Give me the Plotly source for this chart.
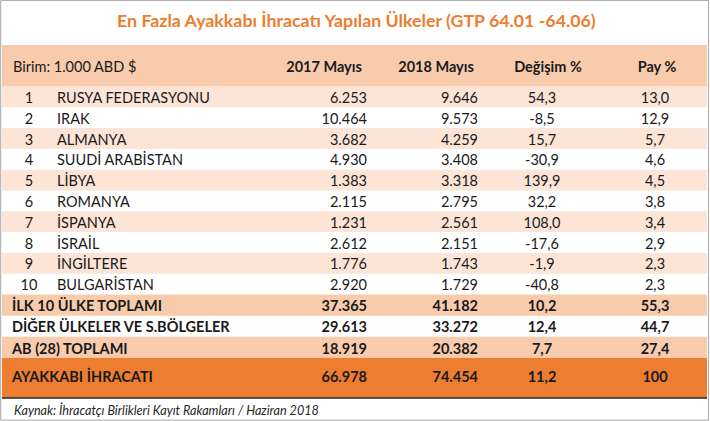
import plotly.graph_objects as go

# ---------------- data ----------------
title = "En Fazla Ayakkabı İhracatı Yapılan Ülkeler (GTP 64.01 -64.06)"
unit_label = "Birim: 1.000 ABD $"
col_headers = ["2017 Mayıs", "2018 Mayıs", "Değişim %", "Pay %"]

ranks = [1, 2, 3, 4, 5, 6, 7, 8, 9, 10]
countries = ["RUSYA FEDERASYONU", "IRAK", "ALMANYA", "SUUDİ ARABİSTAN", "LİBYA",
             "ROMANYA", "İSPANYA", "İSRAİL", "İNGİLTERE", "BULGARİSTAN"]
may2017 = [6253, 10464, 3682, 4930, 1383, 2115, 1231, 2612, 1776, 2920]
may2018 = [9646, 9573, 4259, 3408, 3318, 2795, 2561, 2151, 1743, 1729]
change_pct = [54.3, -8.5, 15.7, -30.9, 139.9, 32.2, 108.0, -17.6, -1.9, -40.8]
share_pct = [13.0, 12.9, 5.7, 4.6, 4.5, 3.8, 3.4, 2.9, 2.3, 2.3]

total_labels = ["İLK 10 ÜLKE TOPLAMI", "DİĞER ÜLKELER VE S.BÖLGELER", "AB (28) TOPLAMI", "AYAKKABI İHRACATI"]
total_2017 = [37365, 29613, 18919, 66978]
total_2018 = [41182, 33272, 20382, 74454]
total_change = [10.2, 12.4, 7.7, 11.2]
total_share = [55.3, 44.7, 27.4, 100]

source = "Kaynak: İhracatçı Birlikleri Kayıt Rakamları / Haziran 2018"

# ---------------- formatting helpers ----------------
def fmt_int(v):
    return f"{v:,}".replace(",", ".")

def fmt_dec(v):
    if isinstance(v, int):
        return str(v)
    return f"{v:.1f}".replace(".", ",")

# ---------------- layout geometry ----------------
W, H = 710, 421
FONT = "Lato"
ORANGE = "#ED7D31"
PEACH = "#F8CBAD"
LIGHT = "#FCE4D6"

header_top, header_bot = 45, 86.5
row_h = 20.8
final_top, final_bot = 358, 398
x_left, x_right = 2, 707
dy = 2.5  # text baseline adjustment

x_rank = 29
x_name = 57
x_2017 = 367
x_2018 = 478
x_chg = 542
x_pay = 655

row_tops = [header_bot + i * row_h for i in range(len(countries))]
row_centers = [t + row_h / 2 + dy for t in row_tops]
tot_start = row_tops[-1] + row_h
tot_h = (final_top - tot_start) / 3
tot_tops = [tot_start + i * tot_h for i in range(3)] + [final_top]
tot_heights = [tot_h, tot_h, tot_h, final_bot - final_top]
tot_centers = [t + h / 2 + (dy if i < 3 else 0.5) for i, (t, h) in enumerate(zip(tot_tops, tot_heights))]

shapes = []
def band(y0, y1, color):
    shapes.append(dict(type="rect", xref="x", yref="y", x0=x_left, x1=x_right, y0=y0, y1=y1,
                       fillcolor=color, line=dict(width=0), layer="below"))

band(header_top, header_bot, PEACH)
for i, t in enumerate(row_tops):
    if i % 2 == 0:
        band(t, t + row_h, LIGHT)
for i, (t, h) in enumerate(zip(tot_tops, tot_heights)):
    if i == 3:
        band(t, t + h, ORANGE)
    elif i % 2 == 0:
        band(t, t + h, PEACH)

# bottom dark line of the table and outer frame
shapes.append(dict(type="line", xref="x", yref="y", x0=x_left, x1=x_right, y0=final_bot, y1=final_bot,
                   line=dict(color="#262626", width=1.5)))
shapes.append(dict(type="rect", xref="paper", yref="paper", x0=0.001, x1=0.998, y0=0.002, y1=0.999,
                   line=dict(color="#A6A6A6", width=1), fillcolor="rgba(0,0,0,0)"))

fig = go.Figure()

def text_trace(xs, ys, texts, pos, size=14.5, color="#1a1a1a", family=FONT):
    fig.add_trace(go.Scatter(x=xs, y=ys, text=texts, mode="text", textposition=pos,
                             textfont=dict(family=family, size=size, color=color),
                             hoverinfo="skip", showlegend=False, cliponaxis=False))

# header
hy = (header_top + header_bot) / 2 + 3
text_trace([13], [hy], [unit_label], "middle right")
text_trace([324, 436, 548, 657], [hy] * 4, [f"<b>{h}</b>" for h in col_headers], "middle center")

# country rows
n = len(countries)
text_trace([x_rank] * n, row_centers, [str(r) for r in ranks], "middle center")
text_trace([x_name] * n, row_centers, countries, "middle right")
text_trace([x_2017] * n, row_centers, [fmt_int(v) for v in may2017], "middle left")
text_trace([x_2018] * n, row_centers, [fmt_int(v) for v in may2018], "middle left")
text_trace([x_chg] * n, row_centers, [fmt_dec(v) for v in change_pct], "middle center")
text_trace([x_pay] * n, row_centers, [fmt_dec(v) for v in share_pct], "middle center")

# totals
m = len(total_labels)
b = lambda s: f"<b>{s}</b>"
text_trace([12] * m, tot_centers, [b(s) for s in total_labels], "middle right")
text_trace([x_2017] * m, tot_centers, [b(fmt_int(v)) for v in total_2017], "middle left")
text_trace([x_2018] * m, tot_centers, [b(fmt_int(v)) for v in total_2018], "middle left")
text_trace([x_chg] * m, tot_centers, [b(fmt_dec(v)) for v in total_change], "middle center")
text_trace([x_pay] * m, tot_centers, [b(fmt_dec(v)) for v in total_share], "middle center")

# title and source
fig.add_annotation(x=356, y=20, xref="x", yref="y", text=f"<b>{title}</b>", showarrow=False,
                   font=dict(family=FONT, size=17.8, color=ORANGE), xanchor="center", yanchor="middle")
fig.add_annotation(x=12, y=410, xref="x", yref="y", text=f"<i>{source}</i>", showarrow=False,
                   font=dict(family=FONT, size=12.6, color="#262626"), xanchor="left", yanchor="middle")

fig.update_layout(
    width=W, height=H, margin=dict(l=0, r=0, t=0, b=0),
    paper_bgcolor="white", plot_bgcolor="white",
    xaxis=dict(range=[0, W], visible=False, fixedrange=True),
    yaxis=dict(range=[H, 0], visible=False, fixedrange=True),
    shapes=shapes,
)

fig.write_html("out.html", config={"displayModeBar": False, "staticPlot": True},
               post_script="document.body.style.margin='0';document.body.style.overflow='hidden';")
